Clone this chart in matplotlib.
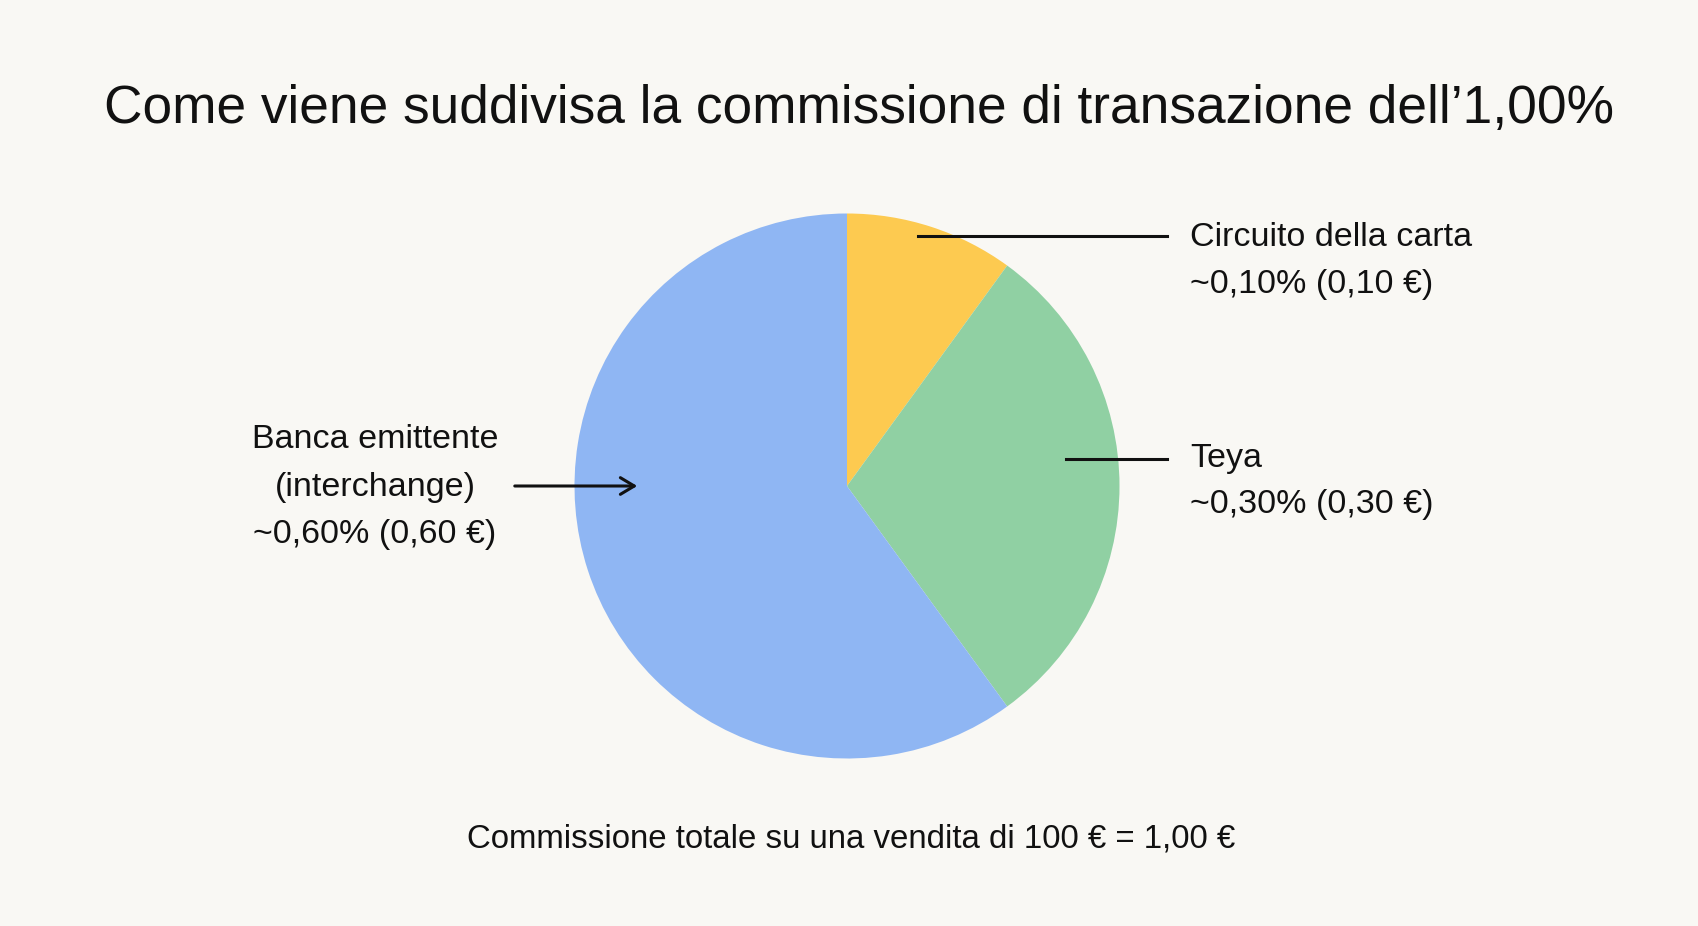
import matplotlib.pyplot as plt
from matplotlib.patches import FancyArrowPatch

plt.rcParams['font.family'] = ['Liberation Sans', 'DejaVu Sans']

# dati
fette = ['Circuito della carta', 'Teya', 'Banca emittente\n(interchange)']
quote = [0.10, 0.30, 0.60]
etichette = ['~0,10% (0,10 €)', '~0,30% (0,30 €)', '~0,60% (0,60 €)']
colori = ['#fdca50', '#90d0a3', '#8fb6f3']

titolo = 'Come viene suddivisa la commissione di transazione dell’1,00%'
nota = 'Commissione totale su una vendita di 100 € = 1,00 €'

W, H = 1698, 926
fig = plt.figure(figsize=(W / 100, H / 100), dpi=100, facecolor='#f9f8f4')
ax = fig.add_axes([0, 0, 1, 1])
ax.set_xlim(0, W)
ax.set_ylim(0, H)
ax.set_aspect('equal')
ax.axis('off')

cx, cy, r = 847, H - 486, 272.5
ax.pie(quote, colors=colori, startangle=90, counterclock=False,
       center=(cx, cy), radius=r, wedgeprops=dict(linewidth=0))
ax.set_xlim(0, W)
ax.set_ylim(0, H)

ax.text(W / 2 + 10, H - 109, titolo, ha='center', va='center', fontsize=38.3, color='#111111')

fs = 24.5
col = '#111111'

# Circuito della carta
ax.plot([918, 1167], [H - 236, H - 236], color=col, lw=2.2)
ax.text(1190, H - 237, fette[0], ha='left', va='center', fontsize=fs, color=col)
ax.text(1190, H - 285, etichette[0], ha='left', va='center', fontsize=fs, color=col)

# Teya
ax.plot([1066, 1167], [H - 459, H - 459], color=col, lw=2.2)
ax.text(1190, H - 459, fette[1], ha='left', va='center', fontsize=fs, color=col)
ax.text(1190, H - 505, etichette[1], ha='left', va='center', fontsize=fs, color=col)

# Banca emittente
ax.add_patch(FancyArrowPatch((512, H - 486), (640, H - 486), arrowstyle='->,head_length=10,head_width=6',
                             color=col, lw=2.2))
righe = fette[2].split('\n') + [etichette[2]]
for i, riga in enumerate(righe):
    ax.text(375, H - 440 - 47.5 * i, riga, ha='center', va='center', fontsize=fs, color=col)

ax.text(851, H - 839, nota, ha='center', va='center', fontsize=23.8, color=col)

fig.savefig('out.png', dpi=100, facecolor=fig.get_facecolor())
